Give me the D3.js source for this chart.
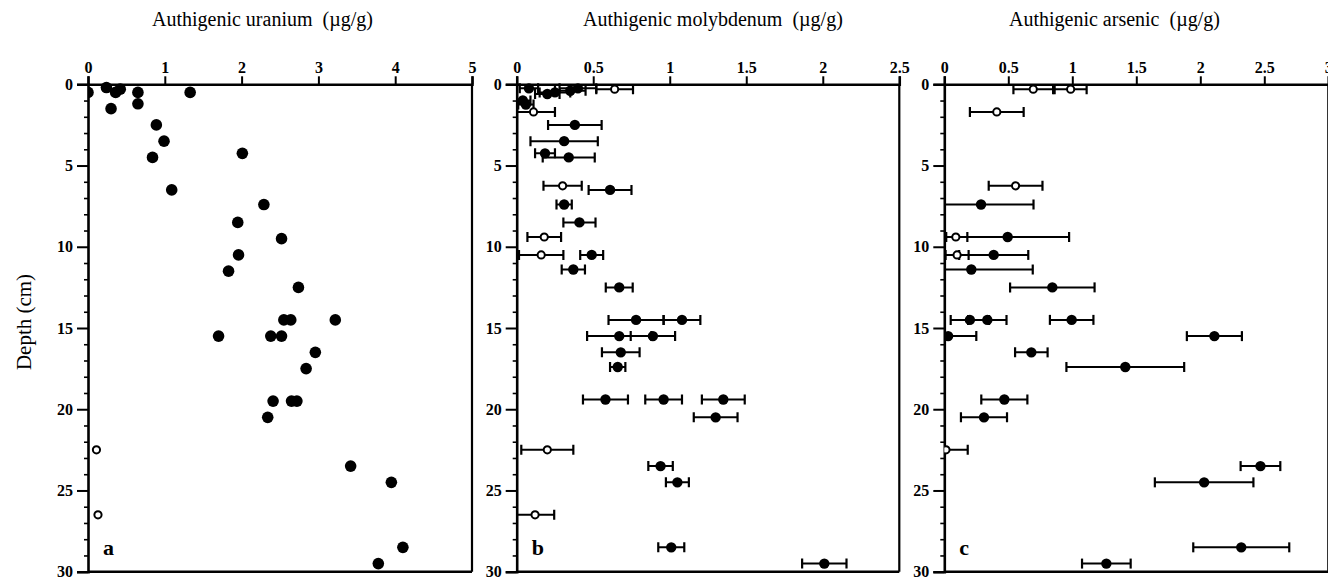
<!DOCTYPE html>
<html>
<head>
<meta charset="utf-8">
<script src="https://cdn.jsdelivr.net/npm/d3@7"></script>
<style>
  html, body { margin: 0; padding: 0; background: #fff; }
  svg { display: block; }
  text { font-family: "Liberation Serif", "DejaVu Serif", serif; fill: #000; white-space: pre; }
</style>
</head>
<body>
<svg id="chart" width="1328" height="577"></svg>
<script>
// ---- Depth profiles (depth in cm, concentration in µg/g) ----
// open = 1 marks hollow symbols

// Uranium
const uDepth = [0.5, 0.2, 0.5, 0.3, 0.5, 0.5, 1.5, 1.2, 2.5, 3.5, 4.5, 4.25, 6.5, 7.4, 8.5, 9.5,
  10.5, 11.5, 12.5, 14.5, 14.5, 14.5, 15.5, 15.5, 15.5, 16.5, 17.5, 19.5, 19.5, 19.5, 20.5,
  22.5, 26.5, 23.5, 24.5, 28.5, 29.5];
const uValue = [0.0, 0.24, 0.36, 0.42, 0.65, 1.33, 0.30, 0.65, 0.89, 0.99, 0.84, 2.01, 1.09, 2.29, 1.95, 2.52,
  1.96, 1.83, 2.74, 3.22, 2.55, 2.64, 1.70, 2.38, 2.52, 2.96, 2.84, 2.41, 2.65, 2.72, 2.34,
  0.11, 0.13, 3.42, 3.95, 4.10, 3.78];
const uOpen = [0, 0, 0, 0, 0, 0, 0, 0, 0, 0, 0, 0, 0, 0, 0, 0,
  0, 0, 0, 0, 0, 0, 0, 0, 0, 0, 0, 0, 0, 0, 0,
  1, 1, 0, 0, 0, 0];

// Molybdenum
const moDepth = [0.25, 0.5, 0.4, 0.25, 0.3, 0.6, 1.0, 1.25, 1.7, 2.5, 3.5, 4.25, 4.5, 6.25, 6.5, 7.4, 8.5,
  9.4, 10.5, 10.5, 11.4, 12.5, 14.5, 14.5, 15.5, 15.5, 16.5, 17.4, 19.4, 19.4, 19.4, 20.5,
  22.5, 23.5, 24.5, 26.5, 28.5, 29.5];
const moValue = [0.08, 0.25, 0.35, 0.40, 0.64, 0.20, 0.04, 0.06, 0.11, 0.38, 0.31, 0.185, 0.34, 0.30, 0.61, 0.31, 0.41,
  0.18, 0.16, 0.49, 0.37, 0.67, 0.78, 1.08, 0.67, 0.89, 0.68, 0.66, 0.58, 0.96, 1.35, 1.30,
  0.20, 0.94, 1.05, 0.12, 1.01, 2.01];
const moError = [0.06, 0.10, 0.10, 0.12, 0.12, 0.08, 0.05, 0.05, 0.14, 0.175, 0.22, 0.065, 0.17, 0.125, 0.14, 0.05, 0.105,
  0.11, 0.145, 0.075, 0.076, 0.088, 0.18, 0.12, 0.21, 0.145, 0.123, 0.05, 0.147, 0.12, 0.14, 0.143,
  0.17, 0.08, 0.075, 0.125, 0.085, 0.145];
const moOpen = [0, 0, 0, 0, 1, 0, 0, 0, 1, 0, 0, 0, 0, 1, 0, 0, 0,
  1, 1, 0, 0, 0, 0, 0, 0, 0, 0, 0, 0, 0, 0, 0,
  1, 0, 0, 1, 0, 0];

// Arsenic
const asDepth = [0.3, 0.3, 1.7, 6.25, 7.4, 9.4, 9.4, 10.5, 10.5, 11.4, 12.5, 14.5, 14.5, 14.5, 15.5, 15.5,
  16.5, 17.4, 19.4, 20.5, 22.5, 23.5, 24.5, 28.5, 29.5];
const asValue = [0.695, 0.987, 0.41, 0.557, 0.287, 0.09, 0.495, 0.10, 0.386, 0.211, 0.844, 0.20, 0.336, 0.995, 0.03, 2.11,
  0.68, 1.414, 0.469, 0.31, 0.013, 2.47, 2.03, 2.32, 1.266];
const asError = [0.155, 0.125, 0.21, 0.21, 0.41, 0.09, 0.48, 0.09, 0.27, 0.48, 0.33, 0.15, 0.15, 0.17, 0.22, 0.215,
  0.127, 0.46, 0.18, 0.18, 0.17, 0.155, 0.385, 0.375, 0.19];
const asOpen = [1, 1, 1, 1, 0, 1, 0, 1, 0, 0, 0, 0, 0, 0, 0, 0,
  0, 0, 0, 0, 1, 0, 0, 0, 0];

// Axis ticks
const depthTicks = [0, 5, 10, 15, 20, 25, 30];
const uTicks = [0, 1, 2, 3, 4, 5];
const moTicks = [0, 0.5, 1, 1.5, 2, 2.5];
const asTicks = [0, 0.5, 1, 1.5, 2, 2.5, 3];

const titles = ["Authigenic uranium  (\u00b5g/g)", "Authigenic molybdenum  (\u00b5g/g)", "Authigenic arsenic  (\u00b5g/g)"];
const letters = ["a", "b", "c"];

// ---- Layout ----
const svg = d3.select("#chart");
const plotTop = 84.3, plotBottom = 571.7;
const y = d3.scaleLinear().domain([0, 30]).range([plotTop, plotBottom]);

const panels = [
  { x0: 88, x1: 472, max: 5, ticks: uTicks, depth: uDepth, value: uValue, error: null, open: uOpen, rFill: 5.8, rOpen: 3.6, titleX: 152 },
  { x0: 516.7, x1: 899.3, max: 2.5, ticks: moTicks, depth: moDepth, value: moValue, error: moError, open: moOpen, rFill: 5.2, rOpen: 3.6, titleX: 583 },
  { x0: 944.3, x1: 1328.3, max: 3, ticks: asTicks, depth: asDepth, value: asValue, error: asError, open: asOpen, rFill: 5.2, rOpen: 3.6, titleX: 1009 }
];

const fmt = d => String(d);

panels.forEach((p, i) => {
  const x = d3.scaleLinear().domain([0, p.max]).range([p.x0, p.x1]);
  const g = svg.append("g");

  // clip region for the plot area
  const clipId = "clip" + i;
  svg.append("clipPath").attr("id", clipId)
    .append("rect").attr("x", p.x0).attr("y", plotTop - 10).attr("width", p.x1 - p.x0).attr("height", plotBottom - plotTop + 20);

  // frame: bottom and right edges
  g.append("line").attr("x1", p.x0).attr("x2", p.x1).attr("y1", plotBottom).attr("y2", plotBottom)
    .attr("stroke", "#000").attr("stroke-width", 2.5);
  g.append("line").attr("x1", p.x1).attr("x2", p.x1).attr("y1", plotTop).attr("y2", plotBottom)
    .attr("stroke", "#000").attr("stroke-width", 2.2);

  // top axis: ticks pointing up
  const xAxis = d3.axisTop(x).tickValues(p.ticks).tickFormat(fmt).tickSize(8).tickPadding(3);
  const gx = g.append("g").attr("transform", `translate(0,${plotTop})`).call(xAxis);
  gx.select(".domain").attr("stroke-width", 2.5);
  gx.selectAll(".tick line").attr("stroke-width", 2);
  gx.selectAll("text").attr("font-family", "Liberation Serif").attr("font-weight", "bold")
    .attr("font-size", 16);

  // left axis: minor ticks every cm, major ticks every 5 cm with labels
  const minor = d3.range(0, 31, 1).filter(d => d % 5 !== 0);
  const gyMinor = g.append("g").attr("transform", `translate(${p.x0},0)`)
    .call(d3.axisLeft(y).tickValues(minor).tickSize(4).tickFormat(""));
  gyMinor.select(".domain").remove();
  gyMinor.selectAll(".tick line").attr("stroke-width", 1.6);

  const gy = g.append("g").attr("transform", `translate(${p.x0},0)`)
    .call(d3.axisLeft(y).tickValues(depthTicks).tickSize(11).tickPadding(4).tickFormat(fmt));
  gy.select(".domain").attr("stroke-width", 2.6);
  gy.selectAll(".tick line").attr("stroke-width", 2);
  gy.selectAll("text").attr("font-family", "Liberation Serif").attr("font-weight", "bold")
    .attr("font-size", 16);

  // title
  svg.append("text").attr("x", p.titleX).attr("y", 26)
    .attr("font-size", 20).text(titles[i]);

  // panel letter
  svg.append("text").attr("x", p.x0 + 15).attr("y", 555).attr("font-size", 22)
    .attr("font-weight", "bold").text(letters[i]);

  const idx = d3.range(p.depth.length);
  const plot = g.append("g").attr("clip-path", `url(#${clipId})`);

  // error bars
  if (p.error) {
    const eb = plot.selectAll("g.eb").data(idx).join("g").attr("class", "eb");
    eb.append("line")
      .attr("x1", j => x(p.value[j] - p.error[j])).attr("x2", j => x(p.value[j] + p.error[j]))
      .attr("y1", j => y(p.depth[j])).attr("y2", j => y(p.depth[j]))
      .attr("stroke", "#000").attr("stroke-width", 2);
    [-1, 1].forEach(s => {
      eb.filter(j => p.value[j] + s * p.error[j] > 0.004)
        .append("line")
        .attr("x1", j => x(p.value[j] + s * p.error[j])).attr("x2", j => x(p.value[j] + s * p.error[j]))
        .attr("y1", j => y(p.depth[j]) - 5).attr("y2", j => y(p.depth[j]) + 5)
        .attr("stroke", "#000").attr("stroke-width", 2.2);
    });
  }

  // symbols
  plot.selectAll("circle.pt").data(idx).join("circle").attr("class", "pt")
    .attr("cx", j => x(p.value[j])).attr("cy", j => y(p.depth[j]))
    .attr("r", j => p.open[j] ? p.rOpen : p.rFill)
    .attr("fill", j => p.open[j] ? "#fff" : "#000")
    .attr("stroke", "#000").attr("stroke-width", j => p.open[j] ? 2 : 0);
});

// shared depth label
svg.append("text").attr("transform", "translate(31,322) rotate(-90)")
  .attr("text-anchor", "middle").attr("font-size", 21).text("Depth (cm)");
</script>
</body>
</html>
